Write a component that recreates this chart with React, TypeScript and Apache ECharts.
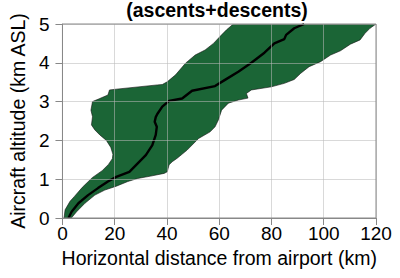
import React, { useEffect, useRef } from "react";
import * as echarts from "echarts";

const titleText = "(ascents+descents)";
const xTicks = [0, 20, 40, 60, 80, 100, 120];
const yTicks = [0, 1, 2, 3, 4, 5];

// left / upper boundary of the envelope, bottom -> top (km, km)
const leftEdge: number[][] = [
  [0.6, 0], [1.0, 0.21], [2.9, 0.43], [4.5, 0.55], [7.6, 0.79], [11.4, 1.04],
  [15.2, 1.22], [17.6, 1.38], [19.1, 1.53], [19.3, 1.64], [18.5, 1.82],
  [16.8, 2.0], [14.3, 2.14], [12.4, 2.27], [11.1, 2.4], [11.5, 2.61],
  [10.9, 2.78], [11.5, 3.0], [14.3, 3.08], [17.4, 3.17], [18.0, 3.3],
  [20.6, 3.32], [36.3, 3.43], [38.2, 3.44], [40.1, 3.51], [43.3, 3.69],
  [47.1, 3.99], [50.8, 4.2], [54.6, 4.33], [57.8, 4.5], [60.9, 4.72],
  [62.8, 4.85], [65.4, 5.0],
];

// right / lower boundary of the envelope, top -> bottom
const rightEdge: number[][] = [
  [120, 5.0], [117.7, 4.89], [115.8, 4.76], [113.9, 4.59], [110.2, 4.48],
  [106.4, 4.31], [102.6, 4.2], [98.8, 4.03], [94.4, 3.9], [91.2, 3.73],
  [88.7, 3.57], [84.9, 3.47], [79.9, 3.38], [72.3, 3.3], [70.4, 3.21],
  [71.0, 3.09], [67.3, 3.04], [63.5, 2.96], [60.9, 2.78], [59.7, 2.53],
  [58.4, 2.35], [56.5, 2.22], [52.1, 2.05], [47.7, 1.75], [43.9, 1.54],
  [42.0, 1.45], [40.8, 1.37], [40.1, 1.19], [38.9, 1.15], [33.8, 1.08],
  [28.8, 1.02], [25.0, 0.94], [20.6, 0.82], [16.2, 0.72], [12.4, 0.59],
  [8.6, 0.38], [5.4, 0.16], [3.4, 0],
];

// median trajectory
const medianLine: number[][] = [
  [2.3, 0], [3.5, 0.16], [6.1, 0.38], [9.8, 0.59], [13.6, 0.77], [17.4, 0.94],
  [20.6, 1.06], [25.6, 1.19], [28.8, 1.41], [31.9, 1.62], [34.4, 1.88],
  [35.7, 2.14], [36.1, 2.35], [35.3, 2.48], [35.7, 2.6], [36.3, 2.68],
  [38.2, 2.87], [40.8, 3.02], [45.8, 3.08], [49.6, 3.28], [58.4, 3.4],
  [62.2, 3.56], [67.3, 3.77], [72.3, 4.0], [77.3, 4.26], [81.1, 4.5],
  [84.9, 4.61], [85.6, 4.72], [88.7, 4.89], [92.5, 5.0],
];

const envelope = [...leftEdge, ...rightEdge];

const FONT = "'Liberation Sans', Arial, Helvetica, sans-serif";

export default function App() {
  const ref = useRef<HTMLDivElement>(null);
  useEffect(() => {
    if (!ref.current) return;
    const chart = echarts.init(ref.current, null, { renderer: "svg" });
    chart.setOption({
      animation: false,
      backgroundColor: "#fff",
      textStyle: { fontFamily: FONT },
      title: {
        text: titleText,
        left: 217,
        textAlign: "center",
        top: 0,
        padding: 0,
        textStyle: { fontSize: 19.5, fontWeight: "bold", color: "#000", fontFamily: FONT },
      },
      grid: {
        left: 59,
        right: 24,
        top: 24,
        bottom: 60,
        show: true,
        z: 5,
        borderColor: "#888",
        borderWidth: 1,
        backgroundColor: "transparent",
      },
      xAxis: {
        type: "value",
        min: 0,
        max: 120,
        interval: 20,
        z: 4,
        name: "Horizontal distance from airport (km)",
        nameLocation: "middle",
        nameGap: 28,
        nameTextStyle: { fontSize: 19.5, color: "#000", fontFamily: FONT },
        axisLine: { show: true, lineStyle: { color: "#888", width: 1 } },
        axisTick: { show: true, length: 7, lineStyle: { color: "#888" } },
        axisLabel: {
          fontSize: 19,
          color: "#000",
          margin: 6,
          fontFamily: FONT,
          formatter: (v: number) => (xTicks.includes(v) ? String(v) : ""),
        },
        splitLine: { show: true, lineStyle: { color: "rgba(185,185,185,0.55)", width: 1 } },
      },
      yAxis: {
        type: "value",
        min: 0,
        max: 5,
        interval: 1,
        z: 4,
        name: "Aircraft altitude (km ASL)",
        nameLocation: "middle",
        nameGap: 32,
        nameTextStyle: { fontSize: 19.5, color: "#000", fontFamily: FONT },
        axisLine: { show: true, lineStyle: { color: "#888", width: 1 } },
        axisTick: { show: true, length: 7, lineStyle: { color: "#888" } },
        axisLabel: {
          fontSize: 19,
          color: "#000",
          margin: 13,
          fontFamily: FONT,
          formatter: (v: number) => (yTicks.includes(v) ? String(v) : ""),
        },
        splitLine: { show: true, lineStyle: { color: "rgba(185,185,185,0.55)", width: 1 } },
      },
      series: [
        {
          type: "custom",
          clip: true,
          z: 1,
          data: envelope,
          renderItem: (params: any, api: any) => {
            if (params.dataIndex !== 0) return null;
            const pts = envelope.map((p) => api.coord(p));
            return {
              type: "polygon",
              shape: { points: pts },
              style: { fill: "#1b6536", stroke: "#111", lineWidth: 0.6 },
            };
          },
        },
        {
          type: "line",
          z: 2,
          clip: true,
          data: medianLine,
          showSymbol: false,
          symbol: "none",
          lineStyle: { color: "#000", width: 2.4 },
        },
      ],
    });
    return () => chart.dispose();
  }, []);
  return <div ref={ref} style={{ width: 400, height: 278, position: "absolute", left: 0, top: 0 }} />;
}
